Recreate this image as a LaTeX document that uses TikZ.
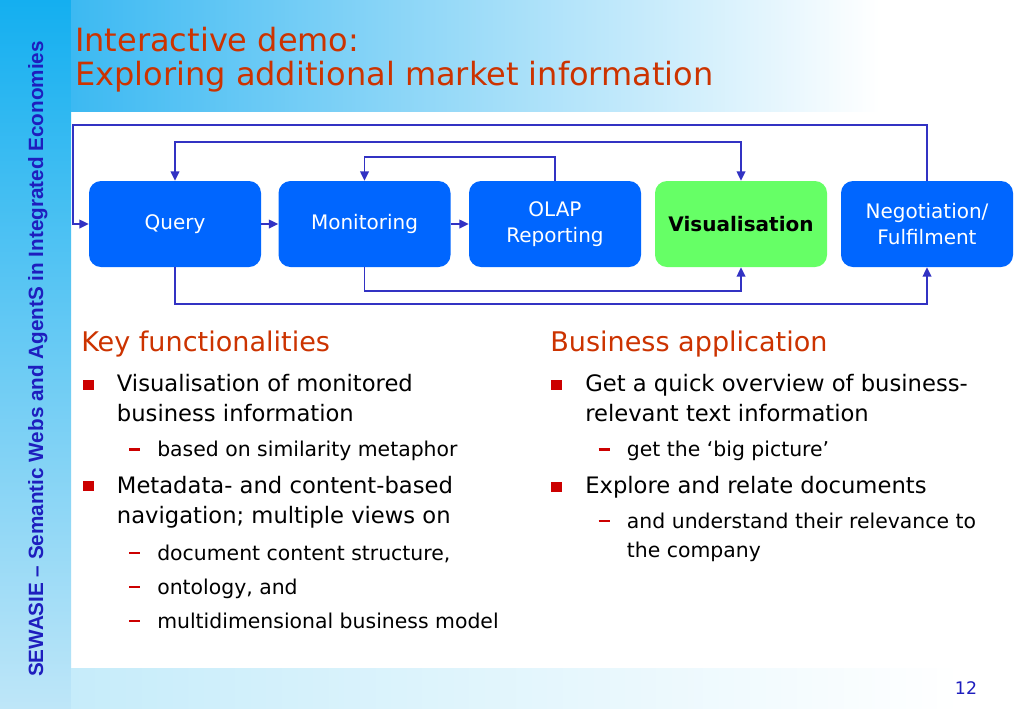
\documentclass[tikz,border=0pt]{standalone}
\usepackage{fontspec}
\setmainfont{DejaVu Sans}
\newfontfamily\sidefont{Liberation Sans}
\usetikzlibrary{arrows.meta}

\definecolor{boxblue}{RGB}{0,102,255}
\definecolor{boxgreen}{RGB}{102,255,102}
\definecolor{linkblue}{RGB}{50,50,195}
\definecolor{titlered}{RGB}{204,51,0}
\definecolor{bulred}{RGB}{204,0,0}
\definecolor{sidecyan}{RGB}{20,175,240}
\definecolor{sidelight}{RGB}{190,230,248}
\definecolor{bandcyan}{RGB}{60,185,242}
\definecolor{bandlight}{RGB}{198,236,250}
\definecolor{sideblue}{RGB}{30,30,190}

\newcommand\itm{\llap{\textcolor{bulred}{\raisebox{1.3pt}{\rule{8pt}{7.5pt}}}\hspace{17.5pt}}}
\newcommand\subit{\llap{\textcolor{bulred}{\raisebox{4.6pt}{\rule{8.5pt}{1.6pt}}}\hspace{12.7pt}}}

\begin{document}
\begin{tikzpicture}[x=0.75pt,y=-0.75pt,
    stage/.style={rounded corners=9pt,fill=boxblue,text=white,minimum width=129pt,
      minimum height=64.5pt,align=center,font=\fontsize{15}{20}\selectfont},
    link/.style={draw=linkblue,line width=1.1pt,>={Triangle[length=7pt,width=6.5pt]},->},
    head/.style={anchor=base west,inner sep=0pt,text=titlered,font=\fontsize{20.3}{24}\selectfont},
    txt/.style={anchor=base west,inner sep=0pt,font=\fontsize{17}{20}\selectfont},
    txtsub/.style={anchor=base west,inner sep=0pt,font=\fontsize{15.3}{18}\selectfont}]
    \useasboundingbox (0,0) rectangle (1023,708);
    \fill[white] (0,0) rectangle (1023,708);
    \shade[top color=sidecyan,bottom color=sidelight] (0,0) rectangle (71,708);
    \shade[left color=bandcyan,right color=white] (71,0) rectangle (880,111);
    \shade[left color=bandlight,right color=white] (71,668) rectangle (960,708);

    \node[rotate=90,anchor=base,text=sideblue,font=\sidefont\bfseries\fontsize{15.5}{18}\selectfont]
      (side) at (43,359) {SEWASIE – Semantic Webs and AgentS in Integrated Economies};
    \node[anchor=base west,inner sep=0pt,text=titlered,font=\fontsize{24}{26}\selectfont]
      (T1) at (75,51.7) {Interactive demo:};
    \node[anchor=base west,inner sep=0pt,text=titlered,font=\fontsize{24}{26}\selectfont]
      (T2) at (75,85.7) {Exploring additional market information};
    \node[text=sideblue,font=\fontsize{13}{15}\selectfont] (P) at (966,688) {12};

    \node[stage] (Q) at (175,224) {Query};
    \node[stage] (M) at (364.5,224) {Monitoring};
    \node[stage] (O) at (555,224) {OLAP\\Reporting};
    \node[stage,fill=boxgreen,text=black,font=\bfseries\fontsize{15}{20}\selectfont] (V) at (741,224) {Visualisation};
    \node[stage] (N) at (927,224) {Negotiation/\\Fulfilment};

    \draw[link] (N.north) |- (73,125) |- (Q.west);
    \draw[link,<->] (Q.north) -- (Q.north |- 0,142) -| (V.north);
    \draw[link] (O.north) -- (O.north |- 0,157) -| (M.north);
    \draw[link] (Q) -- (M);
    \draw[link] (M) -- (O);
    \draw[link] (M.south) -- (M.south |- 0,291) -| (V.south);
    \draw[link] (Q.south) -- (Q.south |- 0,304) -| (N.south);

    \node[head] (K) at (81,351) {Key functionalities};
    \node[txt] (K1) at (116.7,391.7) {\itm Visualisation of monitored};
    \node[txt] (K1b) at (116.7,421.7) {business information};
    \node[txtsub] (K1s) at (157,456.7) {\subit based on similarity metaphor};
    \node[txt] (K2) at (116.7,493) {\itm Metadata- and content-based};
    \node[txt] (K2b) at (116.7,523) {navigation; multiple views on};
    \node[txtsub] (K2s) at (157,560) {\subit document content structure,};
    \node[txtsub] (K2t) at (157,594) {\subit ontology, and};
    \node[txtsub] (K2u) at (157,628) {\subit multidimensional business model};

    \node[head] (B) at (550,351.7) {Business application};
    \node[txt] (B1) at (585,391.7) {\itm Get a quick overview of business-};
    \node[txt] (B1b) at (585,421.7) {relevant text information};
    \node[txtsub] (B1s) at (626.7,456.7) {\subit get the ‘big picture’};
    \node[txt] (B2) at (585,493.3) {\itm Explore and relate documents};
    \node[txtsub] (B2s) at (626.7,528.3) {\subit and understand their relevance to};
    \node[txtsub] (B2t) at (626.7,557) {the company};
\end{tikzpicture}
\end{document}
